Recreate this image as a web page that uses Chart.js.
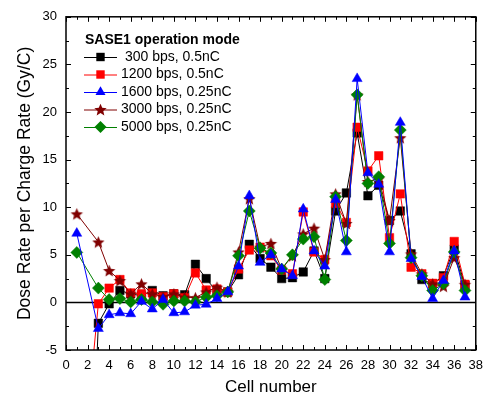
<!DOCTYPE html>
<html><head><meta charset="utf-8">
<script src="https://cdn.jsdelivr.net/npm/chart.js@4.4.1/dist/chart.umd.min.js"></script>
<style>html,body{margin:0;padding:0;background:#fff;}#wrap{width:491px;height:399px;position:relative;}</style>
</head><body><div id="wrap"><canvas id="c" width="491" height="399"></canvas></div>
<script>
const cells = [1,2,3,4,5,6,7,8,9,10,11,12,13,14,15,16,17,18,19,20,21,22,23,24,25,26,27,28,29,30,31,32,33,34,35,36,37];
const legendTitle = "SASE1 operation mode";
const labels300 = " 300 bps, 0.5nC";
const labels1200 = "1200 bps, 0.5nC";
const labels1600 = "1600 bps, 0.25nC";
const labels3000 = "3000 bps, 0.25nC";
const labels5000 = "5000 bps, 0.25nC";
const s300  = [null,-30,-2.2,-0.15,1.25,0.9,0.7,1.25,0.7,0.9,0.8,4.0,2.5,1.1,1.1,2.9,6.1,4.6,3.7,2.5,2.6,3.2,5.4,2.5,9.6,11.5,17.8,11.2,12.3,8.6,9.6,5.1,2.4,1.95,2.8,5.6,1.8];
const s1200 = [null,-12,-0.15,1.5,2.4,1.0,0.9,1.0,0.6,0.9,0.5,3.1,1.3,1.4,1.1,3.5,5.5,5.8,4.9,3.4,3.0,9.5,5.3,4.5,10.4,8.4,18.4,13.8,15.4,6.8,11.4,3.7,3.0,2.0,2.6,6.4,1.9];
const s1600 = [7.25,null,-2.75,-1.3,-1.1,-1.2,0.1,-0.7,0.3,-1.1,-1.0,-0.3,-0.2,0.4,1.1,3.8,11.2,4.2,5.0,3.5,2.8,9.8,5.4,3.8,10.8,5.3,23.5,13.6,12.4,5.3,18.9,4.6,2.7,0.4,2.3,5.4,0.55];
const s3000 = [9.3,null,6.35,3.35,2.3,0.9,1.95,0.9,0.6,0.9,0.55,0.5,1.1,1.6,1.1,5.3,10.9,5.8,6.2,3.5,4.9,7.2,7.8,4.5,11.4,8.3,21.8,12.7,13.0,8.6,17.3,5.1,3.0,1.95,1.7,4.7,1.9];
const s5000 = [5.25,null,1.5,0.3,0.4,0.05,0.3,0.05,-0.2,0.15,0.15,0.05,0.55,0.7,1.1,4.9,9.6,5.7,5.2,3.5,5.0,6.65,6.9,2.4,11.1,6.5,21.8,12.5,13.2,6.2,18.1,4.7,2.8,1.25,1.95,5.3,1.25];
const xTicks = [0,2,4,6,8,10,12,14,16,18,20,22,24,26,28,30,32,34,36,38];
const yTicks = [-5,0,5,10,15,20,25,30];

function pts(arr){ return cells.map((c,i)=>({x:c,y:arr[i]})); }

function makeStar(color, r){
  const size = Math.ceil(r*2+2);
  const cv = document.createElement('canvas'); cv.width = size; cv.height = size;
  const g = cv.getContext('2d');
  const cx = size/2, cy = size/2 + r*0.1;
  g.beginPath();
  for (let k=0;k<10;k++){
    const rr = (k%2===0)? r : r*0.45;
    const a = -Math.PI/2 + k*Math.PI/5;
    const px = cx + rr*Math.cos(a), py = cy + rr*Math.sin(a);
    if (k===0) g.moveTo(px,py); else g.lineTo(px,py);
  }
  g.closePath(); g.fillStyle = color; g.fill();
  return cv;
}
const starImg = makeStar('#800000', 6.5);

const FONT = "'Liberation Sans', Arial, sans-serif";

function drawMarker(ctx, style, x, y, color){
  ctx.save();
  ctx.fillStyle = color;
  ctx.beginPath();
  if (style === 'rect'){ const s=4.2; ctx.rect(x-s,y-s,2*s,2*s); ctx.fill(); }
  else if (style === 'triangle'){ const r=5.8; ctx.moveTo(x, y-r); ctx.lineTo(x+r*0.866, y+r*0.5); ctx.lineTo(x-r*0.866, y+r*0.5); ctx.closePath(); ctx.fill(); }
  else if (style === 'rectRot'){ const r=6; ctx.moveTo(x,y-r); ctx.lineTo(x+r,y); ctx.lineTo(x,y+r); ctx.lineTo(x-r,y); ctx.closePath(); ctx.fill(); }
  else if (style === 'star'){ ctx.drawImage(starImg, x-starImg.width/2, y-starImg.height/2); }
  ctx.restore();
}

const framePlugin = {
  id:'frame',
  beforeDatasetsDraw(chart){
    const {ctx, chartArea:a, scales:{y}} = chart;
    ctx.save();
    ctx.strokeStyle='#000'; ctx.lineWidth=1.5;
    const y0 = y.getPixelForValue(0);
    ctx.beginPath(); ctx.moveTo(a.left,y0); ctx.lineTo(a.right,y0); ctx.stroke();
    ctx.restore();
  },
  afterDatasetsDraw(chart){
    const {ctx, chartArea:a, scales:{x,y}} = chart;
    ctx.save();
    ctx.strokeStyle='#000'; ctx.lineWidth=1.5;
    ctx.strokeRect(a.left,a.top,a.right-a.left,a.bottom-a.top);
    ctx.lineWidth=1;
    ctx.beginPath();
    for (let v=0; v<=38; v+=1){
      const px = Math.round(x.getPixelForValue(v))+0.5;
      const L = (v%2===0)?5:3;
      ctx.moveTo(px,a.bottom); ctx.lineTo(px,a.bottom-L);
      ctx.moveTo(px,a.top); ctx.lineTo(px,a.top+L);
    }
    for (let v=-5; v<=30; v+=2.5){
      const py = Math.round(y.getPixelForValue(v))+0.5;
      const L = (v%5===0)?5:3;
      ctx.moveTo(a.left,py); ctx.lineTo(a.left+L,py);
      ctx.moveTo(a.right,py); ctx.lineTo(a.right-L,py);
    }
    ctx.stroke();
    // legend
    ctx.fillStyle='#000';
    ctx.textBaseline='middle'; ctx.textAlign='left';
    ctx.font = "bold 14px " + FONT;
    ctx.fillText(legendTitle, a.left+19, 40);
    ctx.font = "14px " + FONT;
    const dsOrder = chart.data.datasets;
    dsOrder.forEach((ds,i)=>{
      const yy = 57 + i*17.5;
      const x1 = a.left+18, x2 = a.left+51, xm = a.left+34.5;
      ctx.strokeStyle = ds.borderColor; ctx.lineWidth=1;
      ctx.beginPath(); ctx.moveTo(x1,yy+0.5); ctx.lineTo(x2,yy+0.5); ctx.stroke();
      drawMarker(ctx, ds.legendStyle, xm, yy, ds.pointBackgroundColor);
      ctx.fillStyle='#000';
      ctx.fillText(ds.label, a.left+55, yy);
    });
    ctx.restore();
  }
};

const ctx = document.getElementById('c').getContext('2d');
new Chart(ctx, {
  type:'line',
  data:{ datasets:[
    {label:labels300, data:pts(s300), borderColor:'#000000', pointBackgroundColor:'#000000', pointBorderColor:'#000000', pointStyle:'rect', pointRadius:6, legendStyle:'rect', order:4},
    {label:labels1200, data:pts(s1200), borderColor:'#ff0000', pointBackgroundColor:'#ff0000', pointBorderColor:'#ff0000', pointStyle:'rect', pointRadius:6, legendStyle:'rect', order:3},
    {label:labels1600, data:pts(s1600), borderColor:'#0000ff', pointBackgroundColor:'#0000ff', pointBorderColor:'#0000ff', pointStyle:'triangle', pointRadius:5.8, legendStyle:'triangle', order:0},
    {label:labels3000, data:pts(s3000), borderColor:'#800000', pointBackgroundColor:'#800000', pointBorderColor:'#800000', pointStyle:starImg, pointRadius:6, legendStyle:'star', order:2},
    {label:labels5000, data:pts(s5000), borderColor:'#008000', pointBackgroundColor:'#008000', pointBorderColor:'#008000', pointStyle:'rectRot', pointRadius:6, legendStyle:'rectRot', order:1}
  ]},
  options:{
    responsive:false, animation:false,
    layout:{padding:{top:15,right:9,left:0,bottom:0}},
    datasets:{line:{borderWidth:1, tension:0, spanGaps:true, pointBorderWidth:0.5, pointHoverRadius:6}},
    plugins:{legend:{display:false}, tooltip:{enabled:false}},
    scales:{
      x:{type:'linear', min:0, max:38,
        afterFit(s){ s.height = 49; },
        afterBuildTicks(s){ s.ticks = xTicks.map(v=>({value:v})); },
        grid:{display:false, drawTicks:false}, border:{display:false},
        ticks:{color:'#000', font:{family:FONT, size:13}, padding:8, maxRotation:0, autoSkip:false},
        title:{display:true, text:'Cell number', color:'#000', font:{family:FONT, size:17}, padding:{top:0,bottom:1}}
      },
      y:{type:'linear', min:-5, max:30,
        afterFit(s){ s.width = 66; },
        afterBuildTicks(s){ s.ticks = yTicks.map(v=>({value:v})); },
        grid:{display:false, drawTicks:false}, border:{display:false},
        ticks:{color:'#000', font:{family:FONT, size:13}, padding:9},
        title:{display:true, text:'Dose Rate per Charge Rate (Gy/C)', color:'#000', font:{family:FONT, size:17.5}, padding:{top:15,bottom:0}}
      }
    }
  },
  plugins:[framePlugin]
});
</script></body></html>
